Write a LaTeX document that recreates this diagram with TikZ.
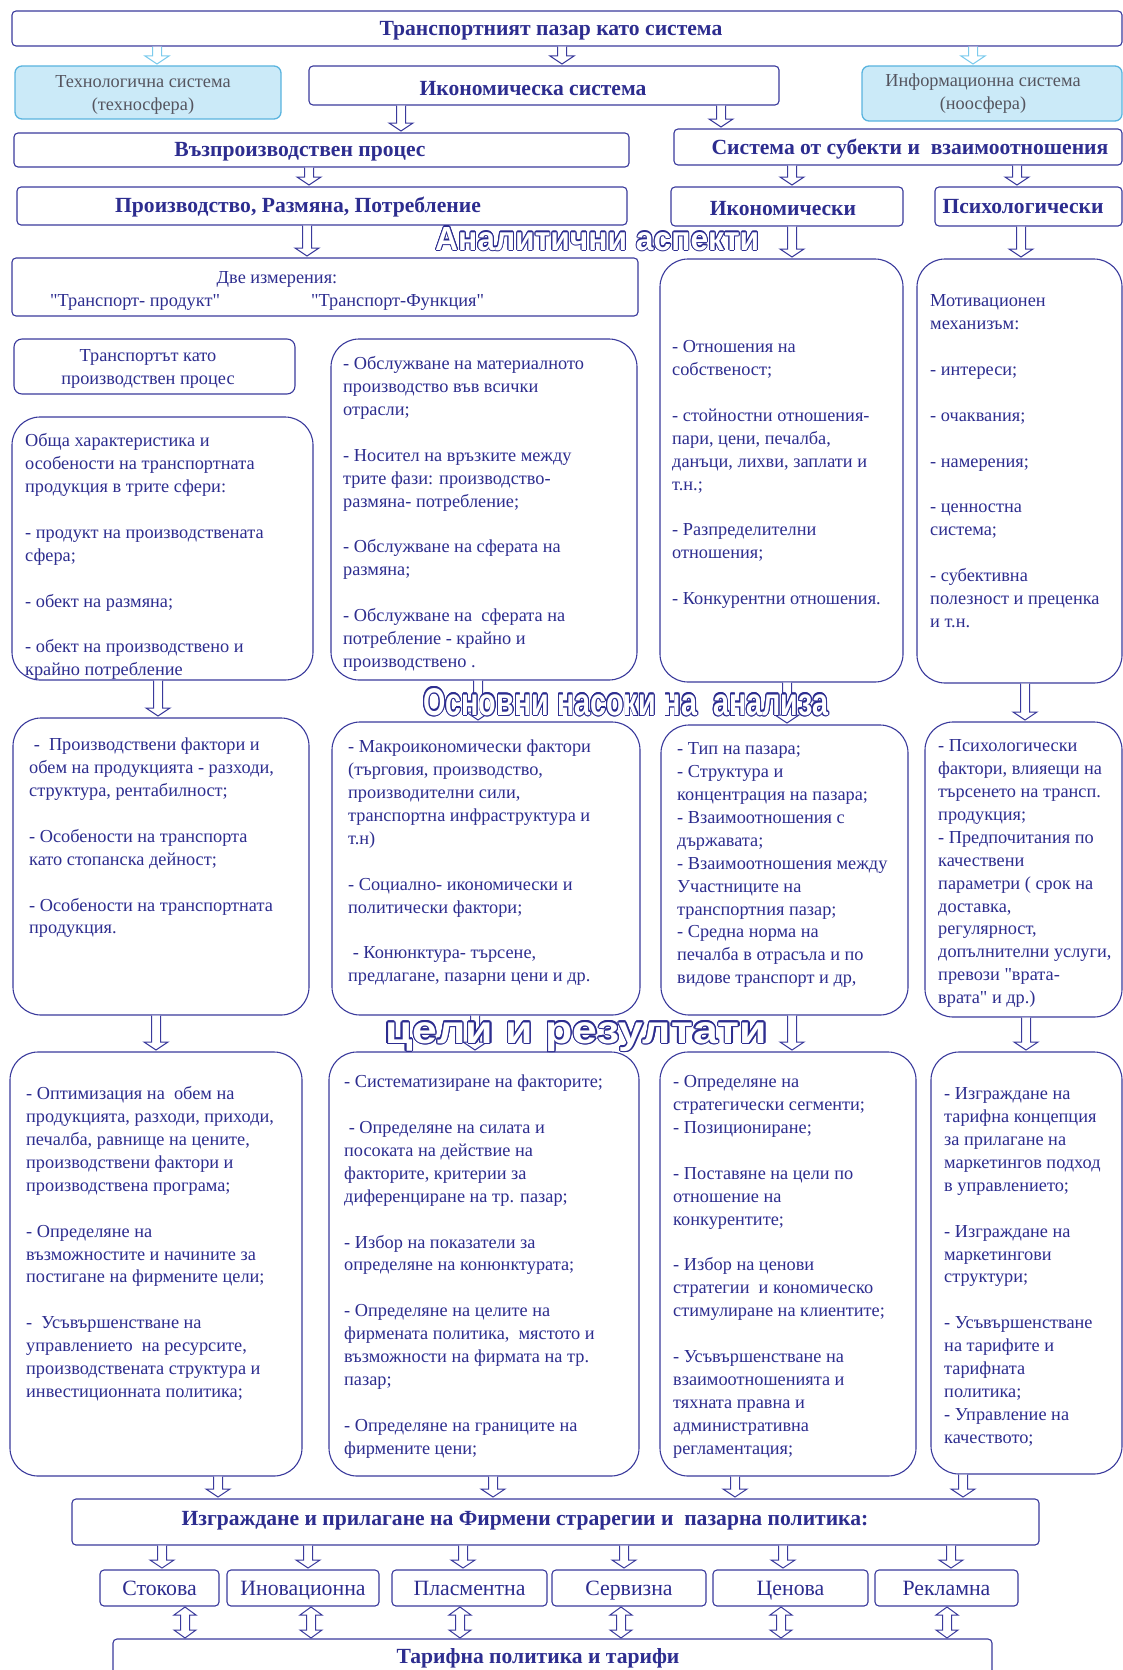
\documentclass[tikz,border=0pt]{standalone}
\usepackage{fontspec}
\setmainfont{Liberation Serif}
\setsansfont{Liberation Sans}
\usepackage{contour}
\usetikzlibrary{calc}
\definecolor{tblue}{HTML}{2D2D8F}
\definecolor{lblue}{HTML}{3A3A9C}
\definecolor{sky}{HTML}{7CCBED}
\definecolor{skyfill}{HTML}{CBEAF8}
\definecolor{skyline}{HTML}{5AB4DF}
\definecolor{graytxt}{HTML}{55555F}
\newcommand\bfnt{\fontsize{18.3}{22.9}\selectfont}
\newcommand\hfnt{\fontsize{21.6}{25}\selectfont\bfseries}
\def\bl{22.9pt}
\contourlength{0.9pt}
\newcommand\outl[1]{{\fontsize{30}{32}\selectfont\sffamily\bfseries\color{white}\contour{tblue}{#1}}}
\newcommand\q{\textquotedbl}
\tikzset{
  bx/.style={draw=lblue, line width=1.1pt, fill=white, inner sep=0pt, outer sep=0pt, anchor=north west},
  sbx/.style={bx, rounded corners=4pt, text=tblue, font=\fontsize{21.8}{25}\selectfont, text height=16pt, text depth=2pt},
  tbx/.style={bx, draw=skyline, fill=skyfill, line width=1.3pt, rounded corners=7pt},
  ttl/.style={inner sep=0pt, text=tblue, font=\hfnt},
  txt/.style={inner sep=0pt, anchor=north west, align=left, text=tblue, font=\bfnt},
  ctxt/.style={inner sep=0pt, align=center, text=tblue, font=\bfnt},
}
% box: [opts]{name}{x1}{y1}{x2}{y2}
\newcommand\bbox[6][]{\node[bx,rounded corners=4pt,#1,minimum width={#5-#3},minimum height={#6-#4}] (#2) at (#3,#4) {};}
\newcommand\rbox[6][]{\node[bx,rounded corners=28pt,#1,minimum width={#5-#3},minimum height={#6-#4}] (#2) at (#3,#4) {};}
% hollow arrow: [colour]{x}{from}{to}
\newcommand\harrow[4][lblue]{%
  \path[draw=#1, fill=white, line width=1pt] let \p1=(#3.south), \p2=(#4.north) in
   ({#2pt-4.5pt},{\y1-0.6pt}) -- ({#2pt-4.5pt},{\y2+10pt}) -- ({#2pt-12pt},{\y2+10pt}) -- (#2pt,{\y2+2pt})
   -- ({#2pt+12pt},{\y2+10pt}) -- ({#2pt+4.5pt},{\y2+10pt}) -- ({#2pt+4.5pt},{\y1-0.6pt});}
\newcommand\darrow[3]{%
  \path[draw=lblue, fill=white, line width=1pt] let \p1=(#2.south), \p2=(#3.north) in
   ({#1pt-4.5pt},{\y1-9pt}) -- ({#1pt-4.5pt},{\y2+9pt}) -- ({#1pt-11pt},{\y2+9pt}) -- (#1pt,{\y2+1pt})
   -- ({#1pt+11pt},{\y2+9pt}) -- ({#1pt+4.5pt},{\y2+9pt}) -- ({#1pt+4.5pt},{\y1-9pt})
   -- ({#1pt+11pt},{\y1-9pt}) -- (#1pt,{\y1-1pt}) -- ({#1pt-11pt},{\y1-9pt}) -- cycle;}
\begin{document}
\begin{tikzpicture}[x=1pt,y=-1pt]
\useasboundingbox (0,0) rectangle (1123,1670);
% ---------- boxes ----------
\bbox{top}{12}{11}{1122}{46}
\bbox[tbx]{tech}{15}{66}{281}{119}
\bbox{econ}{309}{66}{779}{105}
\bbox[tbx]{info}{862}{66}{1122}{121}
\bbox{repro}{14}{133}{629}{167}
\bbox{subj}{674}{129}{1122}{165}
\bbox{prod}{17}{187}{627}{225}
\bbox{ik}{671}{187}{903}{226}
\bbox{ps}{935}{187}{1122}{226}
\bbox{dve}{12}{258}{638}{316}
\bbox[rounded corners=8pt]{trp}{14}{339}{295}{394}
\rbox{r1a}{12}{417}{313}{680}
\rbox{r1b}{331}{339}{637}{680}
\rbox{ikc}{660}{259}{903}{682}
\rbox{psc}{917}{259}{1122}{683}
\rbox{r2a}{13}{718}{309}{1015}
\rbox{r2b}{332}{722}{640}{1015}
\rbox{r2c}{661}{725}{908}{1015}
\rbox{r2d}{925}{722}{1122}{1017}
\rbox{r3a}{10}{1052}{302}{1476}
\rbox{r3b}{329}{1052}{639}{1476}
\rbox{r3c}{660}{1052}{916}{1476}
\rbox{r3d}{931}{1052}{1122}{1474}
\bbox{strat}{72}{1499}{1039}{1545}
\node[sbx,minimum width=119,minimum height=36] (s1) at (100,1570) {Стокова};
\node[sbx,minimum width=152,minimum height=36] (s2) at (227,1570) {Иновационна};
\node[sbx,minimum width=155,minimum height=36] (s3) at (392,1570) {Пласментна};
\node[sbx,minimum width=154,minimum height=36] (s4) at (552,1570) {Сервизна};
\node[sbx,minimum width=155,minimum height=36] (s5) at (713,1570) {Ценова};
\node[sbx,minimum width=143,minimum height=36] (s6) at (875,1570) {Рекламна};
\bbox{tarif}{113}{1639}{992}{1700}
% ---------- arrows ----------
\harrow[sky]{157}{top}{tech}
\harrow{562}{top}{econ}
\harrow[sky]{973}{top}{info}
\harrow{401}{econ}{repro}
\harrow{721}{econ}{subj}
\harrow{309}{repro}{prod}
\harrow{792}{subj}{ik}
\harrow{1017}{subj}{ps}
\harrow{307}{prod}{dve}
\harrow{792}{ik}{ikc}
\harrow{1021}{ps}{psc}
\harrow{158}{r1a}{r2a}
\harrow{478}{r1b}{r2b}
\harrow{787}{ikc}{r2c}
\harrow{1025}{psc}{r2d}
\harrow{156}{r2a}{r3a}
\harrow{475}{r2b}{r3b}
\harrow{792}{r2c}{r3c}
\harrow{1026}{r2d}{r3d}
\harrow{218}{r3a}{strat}
\harrow{493}{r3b}{strat}
\harrow{735}{r3c}{strat}
\harrow{963}{r3d}{strat}
\harrow{162}{strat}{s1}
\harrow{308}{strat}{s2}
\harrow{463}{strat}{s3}
\harrow{624}{strat}{s4}
\harrow{783}{strat}{s5}
\harrow{951}{strat}{s6}
\darrow{185}{s1}{tarif}
\darrow{311}{s2}{tarif}
\darrow{460}{s3}{tarif}
\darrow{621}{s4}{tarif}
\darrow{781}{s5}{tarif}
\darrow{947}{s6}{tarif}
% ---------- titles ----------
\node[ttl] (t-top) at (551,30.5) {Транспортният пазар като система};
\node[ctxt,text=graytxt] (t-tech) at (143,95) {Технологична система\\(техносфера)};
\node[ttl] (t-econ) at (533,89) {Икономическа система};
\node[ctxt,text=graytxt] (t-info) at (983,94) {Информационна система\\(ноосфера)};
\node[ttl] (t-repro) at (300,151.5) {Възпроизводствен процес};
\node[ttl] (t-subj) at (910,149.5) {Система от субекти и\ \ взаимоотношения};
\node[ttl] (t-prod) at (298,207) {Производство, Размяна, Потребление};
\node[ttl] (t-ik) at (783,209) {Икономически};
\node[ttl] (t-ps) at (1023,207) {Психологически};
\node[ctxt] (t-dve) at (277,279.5) {Две измерения:};
\node[ctxt,anchor=west] (t-dve1) at (50,302) {\q Транспорт- продукт\q};
\node[ctxt,anchor=west] (t-dve2) at (311,302) {\q Транспорт-Функция\q};
\node[ctxt] (t-trp) at (148,369) {Транспортът като\\производствен процес};
\node[ttl] (t-strat) at (525,1520.5) {Изграждане и прилагане на Фирмени страрегии и\ \ пазарна политика:};
\node[ttl] (t-tarif) at (538,1658.5) {Тарифна политика и тарифи};
% ---------- outline headings ----------
\node[inner sep=0pt,anchor=base west] (h1) at (435,250) {\resizebox{324pt}{23pt}{\outl{Аналитични аспекти}}};
\node[inner sep=0pt,anchor=base west] (h2) at (423,715) {\resizebox{405pt}{27pt}{\outl{Основни насоки на\ \ анализа}}};
\node[inner sep=0pt,anchor=base west] (h3) at (385,1043) {\resizebox{382pt}{21pt}{\outl{цели\ и\ резултати}}};
% ---------- body texts ----------
\node[txt] (x-r1a) at (25,430.5) {\strut Обща характеристика и\\
особености на транспортната\\
продукция в трите сфери:\\[\bl]
- продукт на производствената\\
сфера;\\[\bl]
- обект на размяна;\\[\bl]
- обект на производствено и\\
крайно потребление};
\node[txt] (x-r1b) at (343,353.5) {\strut- Обслужване на материалното\\
производство във всички\\
отрасли;\\[\bl]
- Носител на връзките между\\
трите фази: производство-\\
размяна- потребление;\\[\bl]
- Обслужване на сферата на\\
размяна;\\[\bl]
- Обслужване на\ \ сферата на\\
потребление - крайно и\\
производствено .};
\node[txt] (x-ikc) at (672,336.5) {\strut- Отношения на\\
собственост;\\[\bl]
- стойностни отношения-\\
пари, цени, печалба,\\
данъци, лихви, заплати и\\
т.н.;\\[\bl]
- Разпределителни\\
отношения;\\[\bl]
- Конкурентни отношения.};
\node[txt] (x-psc) at (930,290.5) {\strut Мотивационен\\
механизъм:\\[\bl]
- интереси;\\[\bl]
- очаквания;\\[\bl]
- намерения;\\[\bl]
- ценностна\\
система;\\[\bl]
- субективна\\
полезност и преценка\\
и т.н.};
\node[txt] (x-r2a) at (29,734.5) {\strut\ -\ \ Производствени фактори и\\
обем на продукцията - разходи,\\
структура, рентабилност;\\[\bl]
- Особености на транспорта\\
като стопанска дейност;\\[\bl]
- Особености на транспортната\\
продукция.};
\node[txt] (x-r2b) at (348,736.5) {\strut- Макроикономически фактори\\
(търговия, производство,\\
производителни сили,\\
транспортна инфраструктура и\\
т.н)\\[\bl]
- Социално- икономически и\\
политически фактори;\\[\bl]
\ - Конюнктура- търсене,\\
предлагане, пазарни цени и др.};
\node[txt] (x-r2c) at (677,738.5) {\strut- Тип на пазара;\\
- Структура и\\
концентрация на пазара;\\
- Взаимоотношения с\\
държавата;\\
- Взаимоотношения между\\
Участниците на\\
транспортния пазар;\\
- Средна норма на\\
печалба в отрасъла и по\\
видове транспорт и др,};
\node[txt] (x-r2d) at (938,735.5) {\strut- Психологически\\
фактори, влияещи на\\
търсенето на трансп.\\
продукция;\\
- Предпочитания по\\
качествени\\
параметри ( срок на\\
доставка,\\
регулярност,\\
допълнителни услуги,\\
превози \q врата-\\
врата\q{} и др.)};
\node[txt] (x-r3a) at (26,1083.5) {\strut- Оптимизация на\ \ обем на\\
продукцията, разходи, приходи,\\
печалба, равнище на цените,\\
производствени фактори и\\
производствена програма;\\[\bl]
- Определяне на\\
възможностите и начините за\\
постигане на фирмените цели;\\[\bl]
-\ \ Усъвършенстване на\\
управлението\ \ на ресурсите,\\
производствената структура и\\
инвестиционната политика;};
\node[txt] (x-r3b) at (344,1071.5) {\strut- Систематизиране на факторите;\\[\bl]
\ - Определяне на силата и\\
посоката на действие на\\
факторите, критерии за\\
диференциране на тр. пазар;\\[\bl]
- Избор на показатели за\\
определяне на конюнктурата;\\[\bl]
- Определяне на целите на\\
фирмената политика,\ \ мястото и\\
възможности на фирмата на тр.\\
пазар;\\[\bl]
- Определяне на границите на\\
фирмените цени;};
\node[txt] (x-r3c) at (673,1071.5) {\strut- Определяне на\\
стратегически сегменти;\\
- Позициониране;\\[\bl]
- Поставяне на цели по\\
отношение на\\
конкурентите;\\[\bl]
- Избор на ценови\\
стратегии\ \ и кономическо\\
стимулиране на клиентите;\\[\bl]
- Усъвършенстване на\\
взаимоотношенията и\\
тяхната правна и\\
административна\\
регламентация;};
\node[txt] (x-r3d) at (944,1083.5) {\strut- Изграждане на\\
тарифна концепция\\
за прилагане на\\
маркетингов подход\\
в управлението;\\[\bl]
- Изграждане на\\
маркетингови\\
структури;\\[\bl]
- Усъвършенстване\\
на тарифите и\\
тарифната\\
политика;\\
- Управление на\\
качеството;};
\end{tikzpicture}
\end{document}
